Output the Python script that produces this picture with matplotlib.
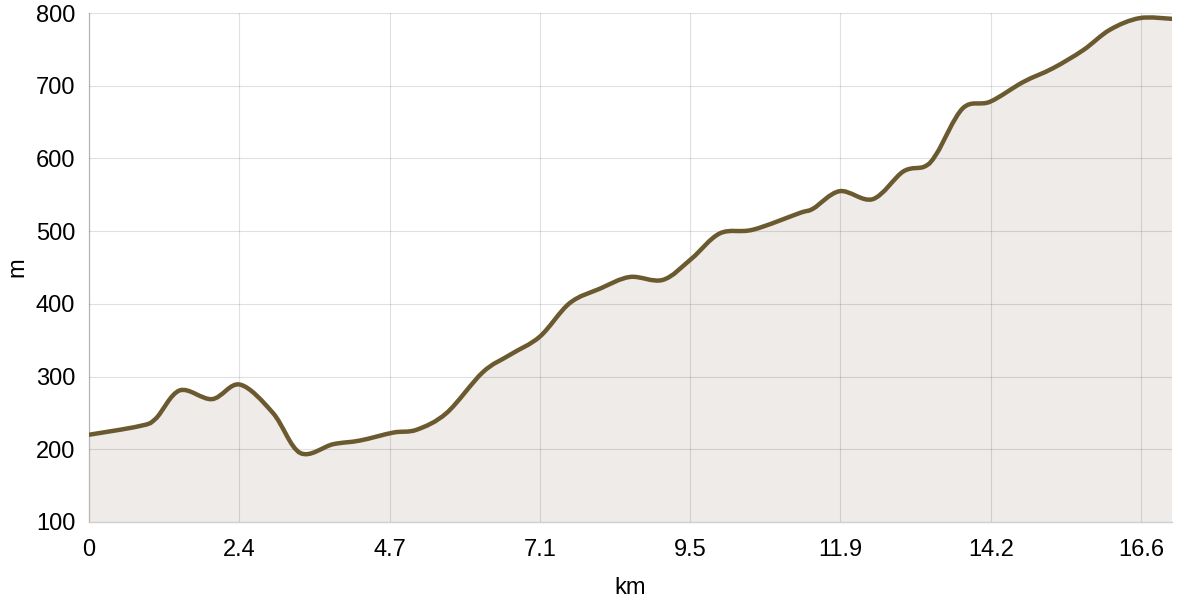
import numpy as np
import matplotlib.pyplot as plt
from matplotlib.path import Path
from matplotlib.patches import PathPatch

plt.rcParams['font.family'] = ['Liberation Sans', 'DejaVu Sans']

# elevation profile
dist_km = [0.0, 0.8, 1.05, 1.43, 1.94, 2.38, 2.9, 3.33, 3.85, 4.27, 4.8,
           5.17, 5.64, 6.21, 6.64, 7.11, 7.58, 8.06, 8.53, 9.05, 9.5,
           9.95, 10.47, 11.21, 11.42, 11.84, 12.36, 12.84, 13.18, 13.37,
           13.78, 14.21, 14.73, 15.2, 15.68, 16.1, 16.57, 17.08]
elev_m = [220, 232, 242, 281, 269, 289, 250, 195, 207, 212, 223,
          227, 250, 306, 330, 355, 401, 421, 437, 433, 462,
          497, 502, 525, 531, 555, 544, 582, 589, 607,
          669, 678, 705, 724, 749, 777, 793, 792]

tick_pos = [0, 2.37, 4.74, 7.11, 9.48, 11.85, 14.22, 16.59]
tick_lbl = ['0', '2.4', '4.7', '7.1', '9.5', '11.9', '14.2', '16.6']

line_col = '#6b5a30'
fill_col = '#efebe8'


def smooth_path(xs, ys):
    # Catmull-Rom through the points, expressed as cubic Bezier segments
    pts = np.column_stack([xs, ys]).astype(float)
    verts = [pts[0]]
    codes = [Path.MOVETO]
    n = len(pts)
    for i in range(n - 1):
        p0 = pts[max(i - 1, 0)]
        p1 = pts[i]
        p2 = pts[i + 1]
        p3 = pts[min(i + 2, n - 1)]
        c1 = p1 + (p2 - p0) / 6.0
        c2 = p2 - (p3 - p1) / 6.0
        verts += [c1, c2, p2]
        codes += [Path.CURVE4] * 3
    return verts, codes


fig = plt.figure(figsize=(12, 6), dpi=100)
ax = fig.add_axes([0.0742, 0.13, 0.9025, 0.8483])

verts, codes = smooth_path(dist_km, elev_m)
fill_verts = verts + [(dist_km[-1], 100), (dist_km[0], 100), verts[0]]
fill_codes = codes + [Path.LINETO, Path.LINETO, Path.CLOSEPOLY]
ax.add_patch(PathPatch(Path(fill_verts, fill_codes), facecolor=fill_col,
                       edgecolor='none', zorder=1))
ax.add_patch(PathPatch(Path(verts, codes), facecolor='none',
                       edgecolor=line_col, lw=3.2, capstyle='round', zorder=3))

ax.set_xlim(0, dist_km[-1])
ax.set_ylim(100, 800)
ax.set_xticks(tick_pos)
ax.set_xticklabels(tick_lbl)
ax.set_yticks(range(100, 801, 100))
ax.tick_params(axis='x', length=0, labelsize=17, colors='black', pad=12)
ax.tick_params(axis='y', length=0, labelsize=17, colors='black', pad=10)
ax.grid(True, color='#000000', alpha=0.12, lw=0.8, zorder=2)
ax.set_axisbelow(False)
for s in ['top', 'right']:
    ax.spines[s].set_visible(False)
for s in ['left', 'bottom']:
    ax.spines[s].set_color('#d0d0d0')
    ax.spines[s].set_linewidth(1)
ax.set_xlabel('km', fontsize=17, labelpad=12)
ax.set_ylabel('m', fontsize=17, labelpad=5)

fig.savefig('out.png', dpi=100)
